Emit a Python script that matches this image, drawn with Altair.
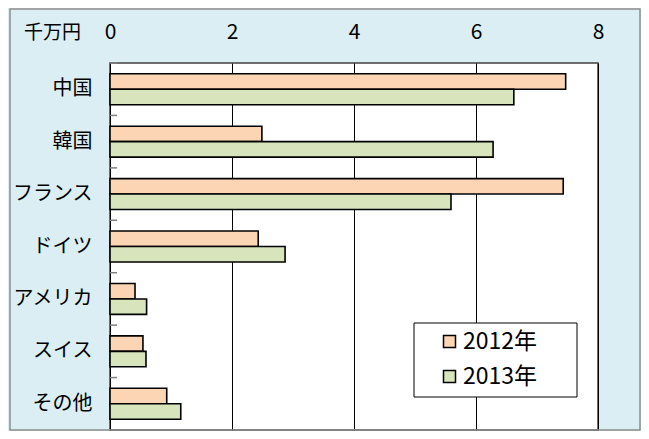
import altair as alt
import pandas as pd

countries = ["中国", "韓国", "フランス", "ドイツ", "アメリカ", "スイス", "その他"]
years = ["2012年", "2013年"]
v2012 = [7.47, 2.49, 7.43, 2.43, 0.41, 0.54, 0.93]
v2013 = [6.62, 6.28, 5.59, 2.87, 0.60, 0.59, 1.16]
x_ticks = [0, 2, 4, 6, 8]
colors = ["#FCD5B4", "#D7E4BC"]

rows = []
for c, a, b in zip(countries, v2012, v2013):
    rows.append({"country": c, "year": years[0], "value": a})
    rows.append({"country": c, "year": years[1], "value": b})
df = pd.DataFrame(rows)
cat_df = pd.DataFrame({"country": countries})

FONT = "Noto Sans CJK JP"
yscale = alt.Scale(domain=countries, paddingInner=0.41, paddingOuter=0.205)

bars = alt.Chart(df).mark_bar(stroke="black", strokeWidth=1.6).encode(
    x=alt.X("value:Q", scale=alt.Scale(domain=[0, 8], nice=False),
            axis=alt.Axis(orient="top", values=x_ticks, grid=True, gridColor="black",
                          gridOpacity=1, gridWidth=1, ticks=False, domain=False,
                          labelFontSize=21, labelFont=FONT, labelPadding=21,
                          labelColor="black", labelFlush=False,
                          title="千万円", titleX=-58, titleY=-31, titleFontSize=19,
                          titleFont=FONT, titleFontWeight="normal", titleAlign="center",
                          titleBaseline="middle", titleColor="black")),
    y=alt.Y("country:N", scale=yscale, sort=countries,
            axis=alt.Axis(title=None, ticks=False, domain=False, labelFontSize=20,
                          labelFont=FONT, labelPadding=18, labelColor="black")),
    yOffset=alt.YOffset("year:N", sort=years),
    color=alt.Color("year:N", scale=alt.Scale(domain=years, range=colors),
                    legend=alt.Legend(title=None, orient="none", legendX=328, legendY=267,
                                      padding=0, offset=0,
                                      symbolType="square", symbolSize=144,
                                      symbolStrokeColor="black", symbolStrokeWidth=1.5,
                                      labelFontSize=23, labelFont=FONT, labelColor="black",
                                      rowPadding=11, labelOffset=2)),
)

ticks = alt.Chart(cat_df).mark_rule(color="#808080", strokeWidth=1.5, yOffset=-10.75).encode(
    y=alt.Y("country:N", scale=yscale, sort=countries, bandPosition=0),
    x=alt.value(0), x2=alt.value(7),
)

legend_box = alt.Chart(cat_df.head(1)).mark_rect(fill="white", stroke="black", strokeWidth=1).encode(
    x=alt.value(304), x2=alt.value(467), y=alt.value(260), y2=alt.value(334),
)

outer = alt.Chart(cat_df.head(1)).mark_rect(fill=None, stroke="#8c8c8c", strokeWidth=1.5).encode(
    x=alt.value(-100), x2=alt.value(530), y=alt.value(-54), y2=alt.value(367),
)

chart = alt.layer(outer, bars, ticks, legend_box).properties(
    width=488, height=367,
    autosize=alt.AutoSizeParams(type="none"),
    padding={"left": 102, "top": 55, "right": 43, "bottom": 1},
    background="#DAEEF3",
).configure_view(fill="white", stroke="#404040", strokeWidth=1.5)

chart.save("out.html", embed_options={"renderer": "svg", "actions": False})
